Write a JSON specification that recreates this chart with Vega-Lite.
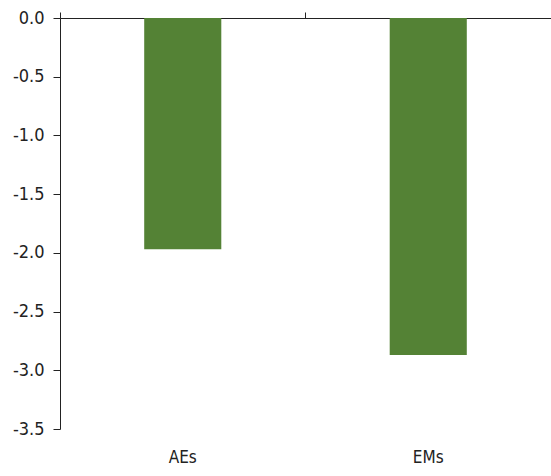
{
  "$schema": "https://vega.github.io/schema/vega-lite/v6.json",
  "width": 491,
  "height": 411,
  "autosize": {"type": "none"},
  "padding": {"left": 60, "top": 18, "right": 0, "bottom": 47},
  "background": "white",
  "config": {
    "view": {"stroke": null},
    "axis": {"grid": false, "labelFont": "Liberation Sans Narrow, DejaVu Sans Condensed, Liberation Sans, sans-serif", "labelColor": "#222", "domainColor": "#222", "tickColor": "#222", "domainWidth": 1, "tickWidth": 1}
  },
  "data": {"values": [
    {"group": "AEs", "value": -1.97},
    {"group": "EMs", "value": -2.87}
  ]},
  "layer": [
    {
      "mark": {"type": "bar", "color": "#548235", "width": {"band": 0.314}},
      "encoding": {
        "x": {"field": "group", "type": "nominal", "sort": null,
              "scale": {"type": "band", "paddingInner": 0, "paddingOuter": 0},
              "axis": {"orient": "bottom", "title": null, "domain": false, "ticks": false, "labelAngle": 0, "labelFontSize": 17, "labelPadding": 20}},
        "y": {"field": "value", "type": "quantitative",
              "scale": {"domain": [-3.5, 0], "nice": false, "zero": false},
              "axis": {"title": null, "values": [0, -0.5, -1, -1.5, -2, -2.5, -3, -3.5], "labelExpr": "replace(format(datum.value, '.1f'), '\u2212', '-')", "labelFontSize": 18, "tickSize": 7, "labelPadding": 9}}
      }
    },
    {
      "mark": {"type": "rule", "opacity": 0},
      "encoding": {
        "x": {"field": "group", "type": "nominal", "sort": null,
              "scale": {"type": "band", "paddingInner": 0, "paddingOuter": 0},
              "axis": {"orient": "top", "title": null, "labels": false, "bandPosition": 0, "tickSize": 6}}
      }
    }
  ],
  "resolve": {"axis": {"x": "independent"}}
}
